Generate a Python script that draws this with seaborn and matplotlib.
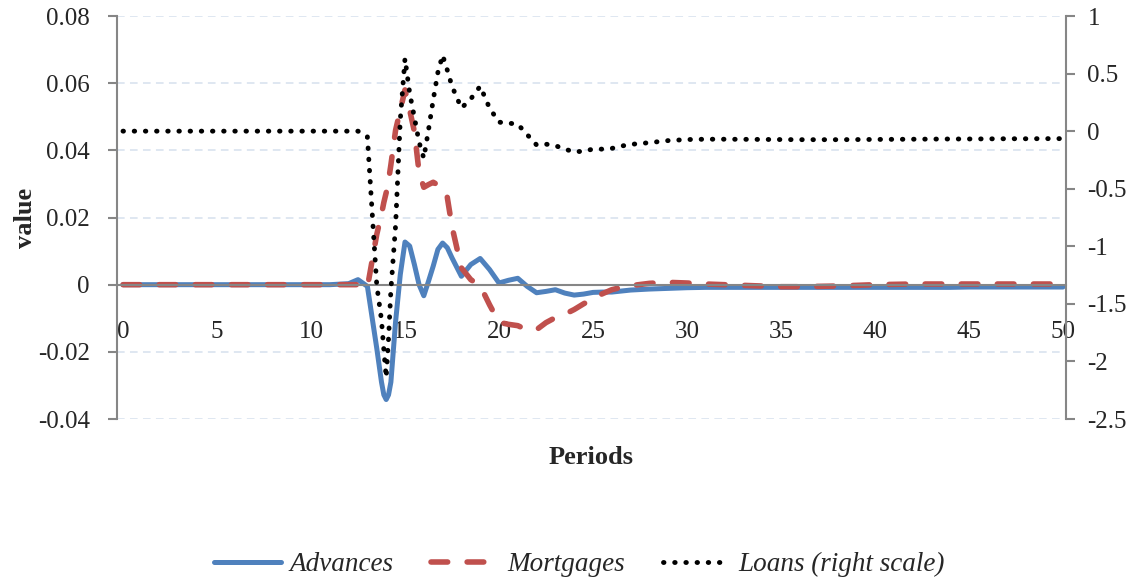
import matplotlib
matplotlib.use("Agg")
import matplotlib.pyplot as plt
import seaborn as sns

# periods (finer steps where the curves move fast)
periods = [0, 1, 2, 3, 4, 5, 6, 7, 8, 9, 10, 11,
           12, 12.5, 13, 13.5, 13.75, 13.875, 14, 14.125, 14.25, 14.5, 14.75,
           15, 15.25, 15.5, 15.75, 16, 16.25, 16.5, 16.75, 17, 17.25, 17.5,
           18, 18.5, 19, 19.5, 20, 20.5, 21, 21.5, 22, 22.5, 23, 23.5,
           24, 24.5, 25, 25.5, 26, 26.5, 27,
           28, 29, 30, 31, 32, 33, 34, 35, 36, 37, 38, 39, 40, 41, 42, 43, 44,
           45, 46, 47, 48, 49, 50]

advances = [0, 0, 0, 0, 0, 0, 0, 0, 0, 0, 0, 0,
            0.0003, 0.0015, -0.0005, -0.019, -0.029, -0.0328, -0.0342, -0.0328, -0.029,
            -0.011, 0.003,
            0.0127, 0.0115, 0.006, 0.0, -0.0033, 0.001, 0.0055, 0.0105, 0.0124, 0.011, 0.008,
            0.0025, 0.006, 0.0078, 0.0045, 0.0005, 0.0013, 0.0019, -0.0005, -0.0024,
            -0.002, -0.0015, -0.0025,
            -0.0031, -0.0028, -0.0023, -0.0022, -0.0022, -0.0019, -0.0016,
            -0.0013, -0.0011, -0.0009, -0.0008, -0.0008, -0.0008, -0.0008, -0.0008,
            -0.0008, -0.0008, -0.0008, -0.0008, -0.0008, -0.0008, -0.0008, -0.0008,
            -0.0008, -0.0007, -0.0007, -0.0007, -0.0007, -0.0007, -0.0007]

mortgages = [0, 0, 0, 0, 0, 0, 0, 0, 0, 0, 0, 0,
             0, 0, -0.0008, 0.015, 0.021, 0.0245, 0.0274, 0.031, 0.0357, 0.046, 0.052,
             0.058, 0.052, 0.0456, 0.0334, 0.029, 0.0298, 0.0305, 0.0297, 0.029, 0.026, 0.0173,
             0.005, 0.0015, -0.0003, -0.006, -0.0112, -0.0118, -0.0122, -0.0135, -0.0134,
             -0.0113, -0.0098, -0.0088,
             -0.0074, -0.0057, -0.0042, -0.0027, -0.0015, -0.0008, -0.0003,
             0.0004, 0.0007, 0.0005, 0.0002, 0.0, -0.0002, -0.0004, -0.0006, -0.0006,
             -0.0005, -0.0004, -0.0002, 0.0, 0.0001, 0.0002, 0.0002, 0.0002, 0.0002,
             0.0002, 0.0002, 0.0002, 0.0002, 0.0002]

loans = [0, 0, 0, 0, 0, 0, 0, 0, 0, 0, 0, 0,
         0, 0, -0.05, -1.34, -1.64, -1.9, -2.14, -1.8, -1.38, -0.82, 0.1,
         0.63, 0.33, 0.12, -0.096, -0.235, 0.01, 0.27, 0.51, 0.66, 0.53, 0.39,
         0.2, 0.28, 0.39, 0.2, 0.078, 0.07, 0.06, -0.03, -0.12, -0.113, -0.126, -0.156,
         -0.18, -0.174, -0.156, -0.156, -0.15, -0.13, -0.115,
         -0.1, -0.082, -0.073, -0.07, -0.07, -0.071, -0.072, -0.073, -0.074,
         -0.074, -0.074, -0.073, -0.072, -0.071, -0.07, -0.069, -0.068, -0.068,
         -0.067, -0.066, -0.066, -0.065, -0.065]

left_ticks = [-0.04, -0.02, 0, 0.02, 0.04, 0.06, 0.08]
left_labels = ["-0.04", "-0.02", "0", "0.02", "0.04", "0.06", "0.08"]
right_ticks = [-2.5, -2, -1.5, -1, -0.5, 0, 0.5, 1]
right_labels = ["-2.5", "-2", "-1.5", "-1", "-0.5", "0", "0.5", "1"]
x_ticks = list(range(0, 51, 5))

blue = "#4F81BD"
red = "#C0504D"
axis_grey = "#868686"

sns.set_style("white")
plt.rcParams["font.family"] = ["Liberation Serif", "DejaVu Serif"]

fig = plt.figure(figsize=(11.38, 5.84), dpi=100)
ax = fig.add_axes([0.1028, 0.2825, 0.8339, 0.6901])
ax2 = ax.twinx()

sns.lineplot(x=periods, y=advances, ax=ax, color=blue, lw=3.6,
             solid_capstyle="round", solid_joinstyle="round",
             label="Advances", legend=False)
sns.lineplot(x=periods, y=mortgages, ax=ax, color=red, lw=4,
             linestyle=(0, (3, 3.5)), dash_capstyle="round", dash_joinstyle="round",
             label="Mortgages", legend=False)
sns.lineplot(x=periods, y=loans, ax=ax2, color="black", lw=3.5,
             linestyle=(0, (0.1, 2.2)), dash_capstyle="round",
             label="Loans (right scale)", legend=False)

ax.set_xlim(-0.32, 50.16)
ax.set_ylim(-0.04, 0.08)
ax2.set_ylim(-2.5, 1)

ax.set_yticks(left_ticks)
ax.set_yticklabels(left_labels)
ax2.set_yticks(right_ticks)
ax2.set_yticklabels(right_labels)
ax.set_xticks(x_ticks)
ax.set_xticklabels([str(v) for v in x_ticks])

# gridlines
for v in left_ticks:
    if v != 0:
        ax.axhline(v, color="#D6E0EE", lw=1.1, linestyle=(0, (5, 3.5)), zorder=0)
ax.set_axisbelow(True)

# spines
for s in ["top", "right"]:
    ax.spines[s].set_visible(False)
for s in ["top", "bottom", "left"]:
    ax2.spines[s].set_visible(False)
ax.spines["left"].set_color(axis_grey)
ax.spines["left"].set_linewidth(1.5)
ax.spines["bottom"].set_position(("data", 0))
ax.spines["bottom"].set_color(axis_grey)
ax.spines["bottom"].set_linewidth(1.5)
ax2.spines["right"].set_color(axis_grey)
ax2.spines["right"].set_linewidth(1.5)

ax.tick_params(axis="y", direction="out", length=6.5, width=1.5, color=axis_grey,
               pad=13, labelsize=18, left=True)
ax2.tick_params(axis="y", direction="out", length=6.5, width=1.5, color=axis_grey,
                pad=9, labelsize=18, right=True)
ax.tick_params(axis="x", length=0, pad=26, labelsize=18)

ax.set_xlabel("Periods", fontsize=19, fontweight="bold")
ax.xaxis.set_label_coords(0.5, -0.067)
ax.set_ylabel("value", fontsize=19, fontweight="bold")
ax.yaxis.set_label_coords(-0.084, 0.5)
ax2.set_ylabel("")

handles = ax.get_lines()[:2] + ax2.get_lines()[:1]
labels = ["Advances", "Mortgages", "Loans (right scale)"]
fig.legend(handles, labels, loc="center", bbox_to_anchor=(0.509, 0.033), ncol=3,
           frameon=False, handlelength=2.5, handletextpad=0.3, columnspacing=1.4,
           prop={"family": ["Liberation Serif"], "style": "italic", "size": 19.5})

fig.savefig("out.png", dpi=100)
